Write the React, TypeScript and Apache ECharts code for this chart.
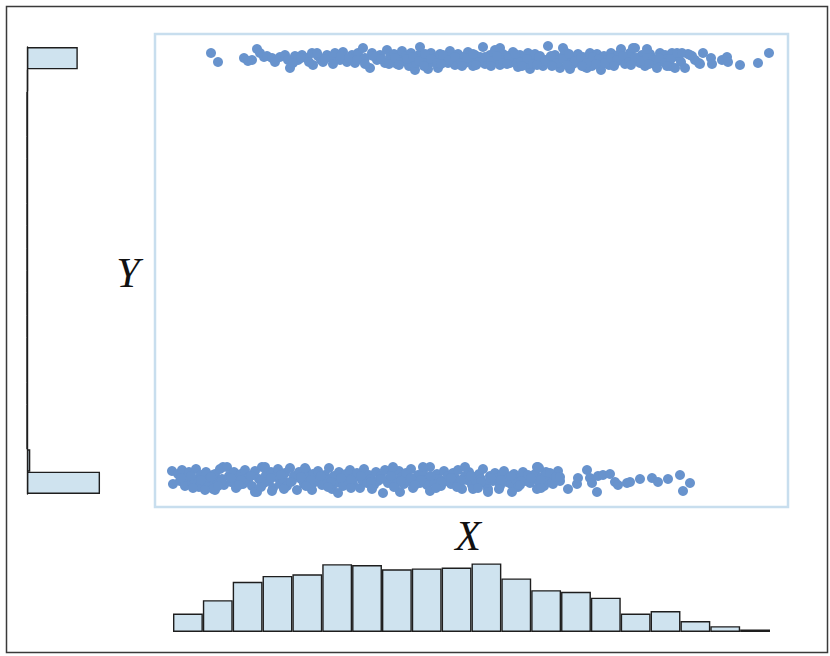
import React, { useEffect, useRef } from "react";
import * as echarts from "echarts";

// X histogram (20 equal bins over the X range), counts
const xBinCounts = [22, 38, 60, 67, 69, 81, 80, 75, 76, 77, 82, 64, 50, 48, 41, 22, 25, 13, 7, 3];
// Y histogram (20 equal bins over the Y range, bottom to top), counts
const yBinCounts = [575, 26, 0, 0, 0, 0, 0, 0, 0, 0, 0, 0, 0, 0, 0, 0, 0, 0, 8, 400];

// scatter: upper group (x, y)
const upperPoints = [
  [38, 441], [45, 432], [71, 436], [75, 433], [79, 434], [84, 445], [87, 441], [91, 437], [94, 438], [99, 436],
  [102, 432], [107, 437], [112, 439], [115, 434], [117, 426], [122, 438], [125, 434], [129, 439], [134, 436], [139, 441],
  [140, 429], [145, 438], [148, 434], [150, 432], [154, 439], [159, 436], [162, 441], [167, 434], [170, 442], [174, 432],
  [179, 439], [182, 431], [185, 441], [190, 446], [192, 436], [197, 426], [199, 441], [204, 434], [207, 439], [212, 431],
  [214, 444], [217, 437],
  [219, 434], [221, 440], [224, 430], [226, 437], [229, 443], [231, 433], [233, 438], [236, 428], [238, 441], [241, 435],
  [242, 424], [243, 431], [246, 439], [247, 447], [250, 434], [253, 429], [255, 425], [255, 437], [258, 441], [260, 432],
  [262, 436], [265, 426], [267, 440], [270, 434], [272, 438], [275, 431], [277, 443], [280, 436], [282, 429], [285, 440],
  [287, 434], [290, 437], [292, 431], [295, 442], [297, 435], [300, 428], [302, 439], [305, 433], [307, 437], [310, 447],
  [312, 430], [315, 435], [317, 439], [320, 432], [322, 444], [325, 436], [327, 446], [327, 429], [330, 440], [332, 434],
  [335, 438], [337, 431], [340, 442], [342, 435], [345, 427], [347, 439], [350, 433], [352, 437], [355, 441], [357, 425],
  [357, 430], [360, 436], [362, 440], [365, 432], [367, 438], [370, 428], [372, 434], [375, 448], [377, 436], [380, 431],
  [382, 439], [385, 434], [387, 426], [390, 446], [390, 437], [392, 442], [395, 433], [397, 425], [397, 438], [400, 430],
  [402, 436], [405, 440], [407, 432], [410, 437], [412, 427], [414, 426], [415, 435], [417, 441],
  [419, 428], [421, 436], [424, 440], [426, 432], [428, 424], [431, 438], [433, 434], [436, 429], [438, 441], [440, 436],
  [443, 432], [445, 439], [448, 445], [450, 434], [452, 430], [455, 437], [457, 441], [460, 433], [462, 446], [464, 436],
  [467, 431], [469, 439], [472, 428], [474, 434], [477, 440], [479, 436], [482, 430], [484, 426], [487, 441], [489, 433],
  [492, 439], [494, 435], [497, 428], [499, 441], [502, 426], [505, 437], [508, 432], [512, 426], [515, 440], [519, 438],
  [522, 434], [526, 431],
  [530, 441], [527, 430], [538, 436], [539, 430], [549, 434], [554, 437], [555, 432], [567, 429], [585, 431], [596, 441],
  [120, 431], [128, 436], [136, 432], [144, 441], [152, 435], [160, 430], [168, 438], [176, 436], [184, 434], [192, 430],
  [200, 438], [208, 435], [216, 430], [222, 436], [228, 432], [234, 435], [240, 437], [246, 433], [252, 440], [258, 435],
  [264, 431], [270, 439], [276, 434], [282, 437], [288, 431], [294, 436], [300, 440], [306, 432], [312, 437], [318, 433],
  [324, 438], [330, 431], [336, 436], [342, 440], [348, 432], [354, 435], [360, 430], [366, 437], [372, 433], [378, 438],
  [384, 431], [390, 435], [396, 440], [402, 433], [408, 436], [414, 431], [420, 437], [426, 435], [432, 431], [438, 436],
  [444, 434], [450, 438], [456, 432], [462, 436], [468, 433], [474, 438], [480, 434], [486, 436], [492, 431], [498, 435],
  [504, 441], [460, 446], [474, 445], [509, 441], [517, 439],
  [226, 429], [251, 428], [268, 430], [289, 428], [303, 429], [318, 428], [334, 430], [349, 428], [364, 429], [379, 428],
  [394, 429], [409, 428], [423, 430], [441, 428], [458, 429], [476, 430], [494, 428]
];

// scatter: lower group (x, y)
const lowerPoints = [
  [-1, 23], [0, 10], [10, 21], [12, 14], [17, 18], [19, 12], [24, 11], [27, 16], [32, 6], [37, 14], [40, 19], [42, 4], [50, 27],
  [5, 20], [7, 13], [9, 24], [12, 8], [14, 17], [16, 22], [19, 11], [21, 15], [23, 25], [26, 7], [28, 19], [30, 13],
  [33, 22], [35, 9], [37, 16], [40, 5], [42, 20], [44, 12], [47, 25], [49, 15], [51, 9], [54, 27], [56, 18], [58, 12],
  [61, 22], [63, 6], [65, 16], [68, 20], [70, 10], [72, 24], [75, 14], [77, 18], [79, 8], [82, 23], [84, 2], [86, 15],
  [89, 27], [91, 11], [93, 19], [96, 13], [98, 22], [100, 6], [103, 17], [105, 25], [107, 10], [110, 15], [112, 21],
  [114, 8], [117, 26], [119, 13], [121, 18], [124, 4], [126, 22], [128, 15], [131, 10], [133, 24], [135, 17], [138, 7],
  [140, 20], [142, 12], [145, 23], [147, 16], [149, 9], [152, 19], [154, 14], [156, 26], [159, 5], [161, 18], [163, 11],
  [166, 22], [168, 15], [170, 8], [173, 20], [175, 13], [177, 24], [180, 10], [182, 17], [184, 21], [187, 6], [189, 14],
  [191, 25], [194, 11], [196, 19], [198, 15], [201, 9], [203, 22], [205, 13], [208, 18], [210, 1], [212, 24], [215, 11],
  [217, 16], [219, 20], [222, 8], [224, 14], [226, 23], [229, 17], [231, 10], [233, 21], [236, 13], [238, 25], [240, 6],
  [243, 16], [245, 19], [247, 11], [250, 22], [252, 14], [254, 9], [257, 27], [259, 17], [261, 12], [264, 20], [266, 15],
  [268, 8], [271, 23], [273, 13], [275, 18], [278, 10], [280, 21], [282, 16], [285, 24], [287, 11], [289, 5], [292, 18],
  [294, 14], [296, 22], [299, 9], [301, 17], [303, 12], [306, 20], [308, 15], [310, 25], [313, 10], [315, 5], [317, 18],
  [320, 13], [322, 21], [324, 16], [327, 8], [329, 19], [331, 23], [334, 12], [336, 16], [338, 10], [341, 20], [343, 14],
  [345, 7], [348, 17], [350, 22], [352, 13], [355, 19], [357, 11], [359, 16], [362, 20], [364, 27], [366, 12], [369, 17],
  [371, 8], [373, 22], [376, 14], [378, 19], [380, 10], [383, 16], [385, 23], [387, 13],
  [92, 27], [132, 26], [220, 27], [250, 27], [292, 27], [365, 27],
  [32, 4], [82, 2], [99, 3], [139, 4], [165, 1], [227, 2], [257, 3], [300, 5], [315, 2], [339, 2], [364, 5],
  [8, 16], [18, 18], [28, 14], [38, 17], [48, 12], [58, 16], [68, 14], [78, 18], [88, 13], [98, 16], [108, 19], [118, 12],
  [128, 17], [138, 14], [148, 18], [158, 12], [168, 16], [178, 14], [188, 18], [198, 12], [208, 15], [218, 18], [228, 13],
  [238, 16], [248, 14], [258, 18], [268, 12], [278, 16], [288, 14], [298, 18], [308, 12], [318, 16], [328, 14], [338, 18],
  [348, 13], [358, 16], [368, 14], [378, 18],
  [366, 26], [377, 21], [379, 11], [383, 17], [387, 17], [395, 5], [404, 10], [405, 16], [414, 24], [417, 16], [419, 11],
  [424, 2], [425, 18], [430, 19], [437, 20], [442, 12], [445, 9], [454, 11], [457, 12], [467, 15], [479, 16], [485, 12],
  [495, 15], [507, 19], [510, 3], [517, 11],
  [20, 6], [45, 8], [66, 9], [88, 7], [111, 5], [133, 8], [155, 7], [178, 6], [199, 5], [221, 7], [242, 9], [263, 6],
  [284, 7], [305, 6], [326, 5], [347, 9], [368, 6]
];

const binLabels = xBinCounts.map((_, i) => String(i));

export default function App() {
  const ref = useRef<HTMLDivElement>(null);

  useEffect(() => {
    document.body.style.margin = "0";
    if (!ref.current) return;
    const chart = echarts.init(ref.current, null, { renderer: "svg" });
    const dot = "#6893cd";
    const fill = "#cfe3ef";
    const edge = "#1e1e1e";
    chart.setOption({
      animation: false,
      backgroundColor: "#ffffff",
      grid: [
        { left: 155, top: 34, width: 633, height: 473, show: true, borderColor: "#c8deee", borderWidth: 2.5, backgroundColor: "transparent" },
        { left: 173, top: 552, width: 597, height: 80 },
        { left: 27, top: 47, width: 127, height: 447 }
      ],
      xAxis: [
        { type: "value", gridIndex: 0, min: -18, max: 615, show: false },
        { type: "category", gridIndex: 1, data: binLabels, show: false },
        { type: "value", gridIndex: 2, min: 0, max: 1000, show: false }
      ],
      yAxis: [
        { type: "value", gridIndex: 0, min: -13, max: 460, show: false },
        { type: "value", gridIndex: 1, min: 0, max: 95.6, show: false },
        {
          type: "category", gridIndex: 2, data: binLabels, show: true,
          axisLine: { show: true, lineStyle: { color: edge, width: 1.4 } },
          axisTick: { show: false }, axisLabel: { show: false }, splitLine: { show: false }
        }
      ],
      series: [
        {
          type: "scatter", xAxisIndex: 0, yAxisIndex: 0, data: upperPoints,
          symbolSize: 10, itemStyle: { color: dot, opacity: 1 }
        },
        {
          type: "scatter", xAxisIndex: 0, yAxisIndex: 0, data: lowerPoints,
          symbolSize: 10, itemStyle: { color: dot, opacity: 1 }
        },
        {
          type: "bar", xAxisIndex: 1, yAxisIndex: 1, data: xBinCounts,
          barWidth: "100%", barCategoryGap: 0,
          itemStyle: { color: fill, borderColor: edge, borderWidth: 1.4 }
        },
        {
          type: "bar", xAxisIndex: 2, yAxisIndex: 2, data: yBinCounts,
          barWidth: "100%", barCategoryGap: 0,
          itemStyle: { color: fill, borderColor: edge, borderWidth: 1.4 }
        }
      ],
      graphic: [
        {
          type: "rect", left: 4, top: 4, silent: true,
          shape: { x: 0, y: 0, width: 821, height: 646 },
          style: { fill: "none", stroke: "#3a3a3a", lineWidth: 1.5 }
        },
        {
          type: "text", x: 128, y: 273,
          style: {
            text: "Y", fontSize: 42, fontStyle: "italic", fontFamily: "Liberation Serif",
            fill: "#111", align: "center", verticalAlign: "middle"
          }
        },
        {
          type: "text", x: 468, y: 536,
          style: {
            text: "X", fontSize: 42, fontStyle: "italic", fontFamily: "Liberation Serif",
            fill: "#111", align: "center", verticalAlign: "middle"
          }
        }
      ]
    });
    return () => chart.dispose();
  }, []);

  return <div ref={ref} style={{ width: 830, height: 656 }} />;
}
